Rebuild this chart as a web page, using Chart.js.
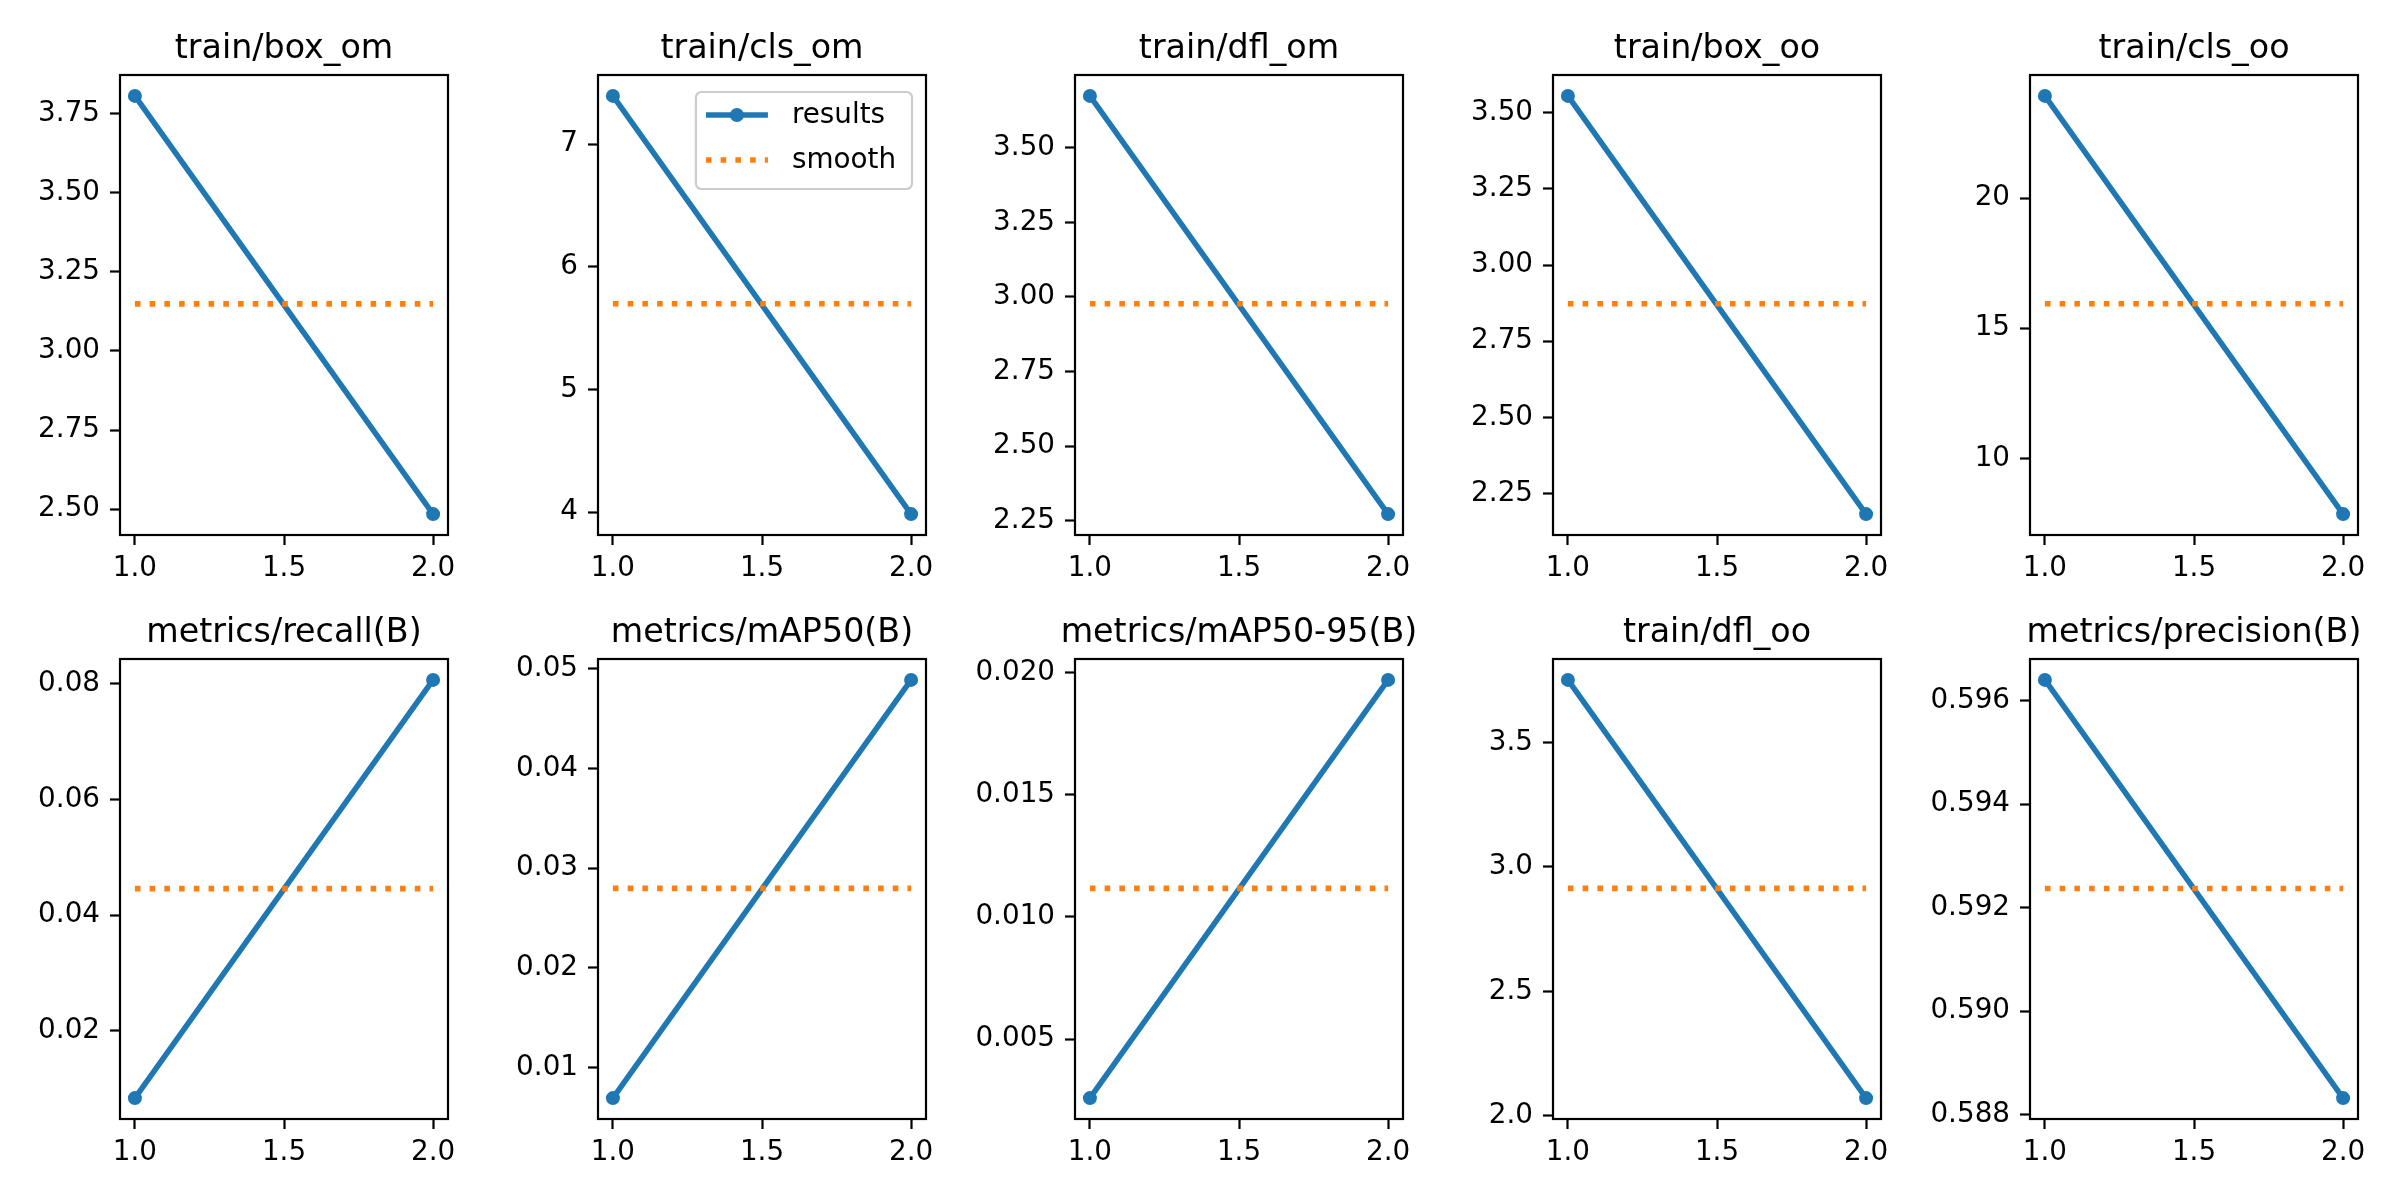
<!DOCTYPE html>
<html lang="en">
  <head>
    <meta charset="utf-8" />
    <title>results</title>
    <style>
      * {
        margin: 0;
        padding: 0;
      }
      body {
        width: 2400px;
        height: 1200px;
        background: white;
        position: relative;
        overflow: hidden;
      }
      canvas {
        position: absolute;
      }
    </style>
  </head>
  <body>
    <div id="figure"></div>

    <script src="https://cdn.jsdelivr.net/npm/chart.js@4.4.1/dist/chart.umd.min.js"></script>

    <script>
      // epochs on the x axis
      const epochs = [1, 2];
      const xTickLabels = ["1.0", "1.5", "2.0"];

      const titles = [
        "train/box_om",
        "train/cls_om",
        "train/dfl_om",
        "train/box_oo",
        "train/cls_oo",
        "metrics/recall(B)",
        "metrics/mAP50(B)",
        "metrics/mAP50-95(B)",
        "train/dfl_oo",
        "metrics/precision(B)",
      ];

      // results per subplot (epoch 1, epoch 2)
      const resultsValues = [
        [3.807, 2.484],
        [7.394, 3.984],
        [3.674, 2.272],
        [3.555, 2.183],
        [23.92, 7.865],
        [0.00836, 0.0807],
        [0.00693, 0.04889],
        [0.00259, 0.0197],
        [3.752, 2.071],
        [0.5964, 0.58832],
      ];

      // smoothed curve per subplot
      const smoothValues = [
        [3.149, 3.149],
        [5.699, 5.699],
        [2.977, 2.977],
        [2.873, 2.873],
        [15.94, 15.94],
        [0.0446, 0.0446],
        [0.02797, 0.02797],
        [0.01117, 0.01117],
        [2.914, 2.914],
        [0.59237, 0.59237],
      ];

      const yTickLabels = [
        ["2.50", "2.75", "3.00", "3.25", "3.50", "3.75"],
        ["4", "5", "6", "7"],
        ["2.25", "2.50", "2.75", "3.00", "3.25", "3.50"],
        ["2.25", "2.50", "2.75", "3.00", "3.25", "3.50"],
        ["10", "15", "20"],
        ["0.02", "0.04", "0.06", "0.08"],
        ["0.01", "0.02", "0.03", "0.04", "0.05"],
        ["0.005", "0.010", "0.015", "0.020"],
        ["2.0", "2.5", "3.0", "3.5"],
        ["0.588", "0.590", "0.592", "0.594", "0.596"],
      ];

      const blue = "#1f77b4";
      const orange = "#ff7f0e";
      const fontFamily = "'DejaVu Sans', sans-serif";
      const tickFont = 27.8;
      const titleFont = 33.3;

      // axes boxes (matplotlib tight layout, 2 rows x 5 cols)
      const rowTop = [75, 659];
      const rowBottom = [535, 1119];
      const colLeft0 = 120;
      const colStep = 477.5;
      const axW = 327.5;
      const padL = 110;
      const padR = 24;
      const padT = 75;
      const padB = 58;

      const frameAndTitle = {
        id: "frameAndTitle",
        afterDraw(chart, args, opts) {
          const { ctx, chartArea: a } = chart;
          ctx.save();
          ctx.strokeStyle = "#000";
          ctx.lineWidth = 2.2;
          ctx.strokeRect(a.left, a.top, a.right - a.left, a.bottom - a.top);
          ctx.fillStyle = "#000";
          ctx.font = titleFont + "px " + fontFamily;
          ctx.textAlign = "center";
          ctx.textBaseline = "alphabetic";
          ctx.fillText(opts.text, (a.left + a.right) / 2, a.top - 17);
          ctx.restore();
        },
      };

      // matplotlib style legend box in the upper right
      const boxLegend = {
        id: "boxLegend",
        afterDraw(chart) {
          const { ctx, chartArea: a } = chart;
          const sets = chart.data.datasets.slice().sort((p, q) => q.order - p.order);
          ctx.save();
          ctx.font = tickFont + "px " + fontFamily;
          const textW = Math.max(...sets.map((d) => ctx.measureText(d.label).width));
          const handle = 62;
          const gap = 24;
          const pad = 10;
          const rowH = 45;
          const w = pad + handle + gap + textW + 16;
          const h = 97;
          const x0 = a.right - 14 - w;
          const y0 = a.top + 17;

          ctx.beginPath();
          ctx.roundRect(x0, y0, w, h, 5.6);
          ctx.fillStyle = "rgba(255,255,255,0.8)";
          ctx.fill();
          ctx.strokeStyle = "#cccccc";
          ctx.lineWidth = 2.2;
          ctx.stroke();

          sets.forEach((d, i) => {
            const cy = y0 + 23 + i * rowH;
            const hx = x0 + pad;
            ctx.beginPath();
            ctx.strokeStyle = d.borderColor;
            ctx.lineWidth = d.borderWidth;
            ctx.lineCap = "butt";
            ctx.setLineDash(d.borderDash || []);
            ctx.moveTo(hx, cy);
            ctx.lineTo(hx + handle, cy);
            ctx.stroke();
            ctx.setLineDash([]);
            if (d.pointRadius > 0) {
              ctx.beginPath();
              ctx.fillStyle = d.borderColor;
              ctx.arc(hx + handle / 2, cy, d.pointRadius + d.pointBorderWidth / 2, 0, Math.PI * 2);
              ctx.fill();
            }
            ctx.fillStyle = "#000";
            ctx.textAlign = "left";
            ctx.textBaseline = "middle";
            ctx.fillText(d.label, hx + handle + gap, cy + 1);
          });
          ctx.restore();
        },
      };

      const figure = document.getElementById("figure");

      titles.forEach((title, i) => {
        const row = Math.floor(i / 5);
        const col = i % 5;
        const left = colLeft0 + col * colStep;
        const top = rowTop[row];
        const axH = rowBottom[row] - rowTop[row];

        const canvas = document.createElement("canvas");
        canvas.width = Math.round(padL + axW + padR);
        canvas.height = Math.round(padT + axH + padB);
        canvas.style.left = Math.round(left - padL) + "px";
        canvas.style.top = Math.round(top - padT) + "px";
        figure.appendChild(canvas);

        const vals = resultsValues[i].concat(smoothValues[i]);
        const lo = Math.min(...vals);
        const hi = Math.max(...vals);
        const span = hi - lo;
        const yTicks = yTickLabels[i];

        const axisCommon = {
          type: "linear",
          grid: {
            drawOnChartArea: false,
            drawTicks: true,
            tickLength: 10,
            tickWidth: 2.2,
            tickColor: "#000",
          },
          border: { display: false },
        };

        new Chart(canvas, {
          type: "line",
          data: {
            datasets: [
              {
                label: "results",
                data: epochs.map((e, k) => ({ x: e, y: resultsValues[i][k] })),
                borderColor: blue,
                backgroundColor: blue,
                borderWidth: 5.56,
                pointRadius: 5.6,
                pointBorderWidth: 2.8,
                pointBackgroundColor: blue,
                pointBorderColor: blue,
                order: 1,
              },
              {
                label: "smooth",
                data: epochs.map((e, k) => ({ x: e, y: smoothValues[i][k] })),
                borderColor: orange,
                borderWidth: 5.56,
                borderDash: [5.56, 9.17],
                borderCapStyle: "butt",
                pointRadius: 0,
                pointBorderWidth: 0,
                order: 0,
              },
            ],
          },
          options: {
            responsive: false,
            animation: false,
            devicePixelRatio: 1,
            layout: { padding: { top: padT, right: padR, left: 0, bottom: 0 } },
            plugins: {
              legend: { display: false },
              tooltip: { enabled: false },
              title: { display: false },
              frameAndTitle: { text: title },
            },
            scales: {
              x: {
                ...axisCommon,
                min: 0.95,
                max: 2.05,
                afterBuildTicks: (s) => {
                  s.ticks = xTickLabels.map((t) => ({ value: parseFloat(t) }));
                },
                afterFit: (s) => {
                  s.height = padB;
                },
                ticks: {
                  callback: (v, k) => xTickLabels[k],
                  color: "#000",
                  padding: 7,
                  maxRotation: 0,
                  autoSkip: false,
                  font: { family: fontFamily, size: tickFont },
                },
              },
              y: {
                ...axisCommon,
                min: lo - span * 0.05,
                max: hi + span * 0.05,
                afterBuildTicks: (s) => {
                  s.ticks = yTicks.map((t) => ({ value: parseFloat(t) }));
                },
                afterFit: (s) => {
                  s.width = padL;
                },
                ticks: {
                  callback: (v, k) => yTicks[k],
                  color: "#000",
                  padding: 10,
                  autoSkip: false,
                  font: { family: fontFamily, size: tickFont },
                },
              },
            },
          },
          plugins: i === 1 ? [frameAndTitle, boxLegend] : [frameAndTitle],
        });
      });
    </script>
  </body>
</html>
